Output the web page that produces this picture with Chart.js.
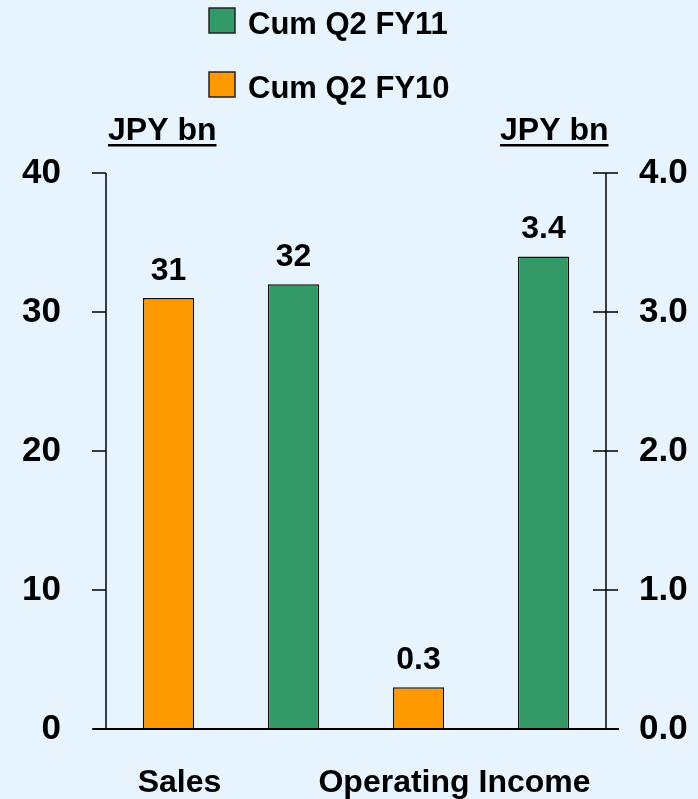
<!DOCTYPE html>
<html>
<head>
<meta charset="utf-8">
<script src="https://cdn.jsdelivr.net/npm/chart.js@4/dist/chart.umd.min.js"></script>
<style>
  html, body { margin: 0; padding: 0; background: #e8f4fd; }
  #wrap { width: 698px; height: 799px; }
</style>
</head>
<body>
<div id="wrap"><canvas id="chart"></canvas></div>
<script>
// Data: Sales on the left axis, Operating Income on the right axis
const BARS = ['Sales FY10', 'Sales FY11', 'OI FY10', 'OI FY11'];
const SALES = [31, 32, null, null];
const OP_INCOME = [null, null, 0.3, 3.4];
const VALUE_LABELS = ['31', '32', '0.3', '3.4'];
const GROUPS = ['Sales', 'Operating Income'];
const SERIES = ['Cum Q2 FY11', 'Cum Q2 FY10'];
const LEFT_TICKS = [0, 10, 20, 30, 40];
const RIGHT_TICKS = ['0.0', '1.0', '2.0', '3.0', '4.0'];

const GREEN = '#339966';
const ORANGE = '#ff9900';
const BAR_COLORS = [ORANGE, GREEN, ORANGE, GREEN];
const FONT = "'Liberation Sans', Arial, sans-serif";

// ── Overlay: axes lines, value labels, legend, titles ──────────
const overlay = {
    id: 'overlay',
    afterDatasetsDraw(chart) {
        const { ctx, chartArea: a, scales } = chart;
        const y = scales.y, y1 = scales.y1;
        ctx.save();
        ctx.strokeStyle = '#000';

        // left axis with outward ticks
        ctx.lineWidth = 1.5;
        ctx.beginPath();
        ctx.moveTo(a.left, y.getPixelForValue(40));
        ctx.lineTo(a.left, y.getPixelForValue(0));
        LEFT_TICKS.forEach(v => {
            const py = y.getPixelForValue(v);
            ctx.moveTo(a.left - 14, py);
            ctx.lineTo(a.left, py);
        });
        // right axis with crossing ticks
        ctx.moveTo(a.right, y1.getPixelForValue(4));
        ctx.lineTo(a.right, y1.getPixelForValue(0));
        RIGHT_TICKS.forEach((t, i) => {
            const py = y1.getPixelForValue(i);
            ctx.moveTo(a.right - 13, py);
            ctx.lineTo(a.right + 12, py);
        });
        ctx.stroke();

        // zero line
        ctx.lineWidth = 2;
        ctx.beginPath();
        ctx.moveTo(a.left - 13, y.getPixelForValue(0));
        ctx.lineTo(a.right + 13, y.getPixelForValue(0));
        ctx.stroke();

        // value labels above bars
        ctx.fillStyle = '#000';
        ctx.font = 'bold 32px ' + FONT;
        ctx.textAlign = 'center';
        ctx.textBaseline = 'alphabetic';
        chart.data.datasets.forEach((ds, di) => {
            chart.getDatasetMeta(di).data.forEach((bar, i) => {
                if (ds.data[i] == null) return;
                ctx.fillText(VALUE_LABELS[i], bar.x, bar.y - 18);
            });
        });

        // category labels
        const x = chart.scales.x;
        ctx.fillText(GROUPS[0], x.getPixelForValue(0) + 11, 792);
        ctx.fillText(GROUPS[1], x.getPixelForValue(2) + 36, 792);

        // axis titles (underlined)
        ctx.font = 'bold 32px ' + FONT;
        ctx.textAlign = 'left';
        [[108, 'JPY bn'], [500, 'JPY bn']].forEach(([tx, t]) => {
            ctx.fillText(t, tx, 140);
            const w = ctx.measureText(t).width;
            ctx.fillRect(tx, 144, w, 2.5);
        });

        // legend (stacked)
        ctx.font = 'bold 31px ' + FONT;
        const items = [[SERIES[0], GREEN, 8], [SERIES[1], ORANGE, 72]];
        items.forEach(([t, c, top]) => {
            ctx.fillStyle = c;
            ctx.fillRect(209, top, 26, 25);
            ctx.strokeStyle = '#222';
            ctx.lineWidth = 1.5;
            ctx.strokeRect(209, top, 26, 25);
            ctx.fillStyle = '#000';
            ctx.fillText(t, 248, top + 26);
        });
        ctx.restore();
    }
};

new Chart(document.getElementById('chart'), {
    type: 'bar',
    data: {
        labels: BARS,
        datasets: [
            { label: 'Sales', data: SALES, yAxisID: 'y', backgroundColor: BAR_COLORS,
              borderColor: '#111', borderWidth: 1.5, grouped: false,
              barPercentage: 0.41, categoryPercentage: 1 },
            { label: 'Operating Income', data: OP_INCOME, yAxisID: 'y1', backgroundColor: BAR_COLORS,
              borderColor: '#111', borderWidth: 1.5, grouped: false,
              barPercentage: 0.41, categoryPercentage: 1 },
        ]
    },
    options: {
        responsive: true,
        maintainAspectRatio: false,
        animation: false,
        layout: { padding: { top: 173, bottom: 70, left: 0, right: 0 } },
        plugins: { legend: { display: false }, tooltip: { enabled: false } },
        scales: {
            x: { display: false, offset: true },
            y: {
                position: 'left', min: 0, max: 40,
                afterFit: s => { s.width = 106; },
                afterBuildTicks: s => { s.ticks = LEFT_TICKS.map(v => ({ value: v })); },
                grid: { display: false }, border: { display: false },
                ticks: { color: '#000', padding: 37, font: { family: FONT, size: 35, weight: 'bold' } }
            },
            y1: {
                position: 'right', min: 0, max: 4,
                afterFit: s => { s.width = 92; },
                afterBuildTicks: s => { s.ticks = RIGHT_TICKS.map((t, i) => ({ value: i })); },
                grid: { display: false }, border: { display: false },
                ticks: { color: '#000', padding: 25, callback: (v, i) => RIGHT_TICKS[i],
                         font: { family: FONT, size: 35, weight: 'bold' } }
            }
        }
    },
    plugins: [overlay]
});
</script>
</body>
</html>
